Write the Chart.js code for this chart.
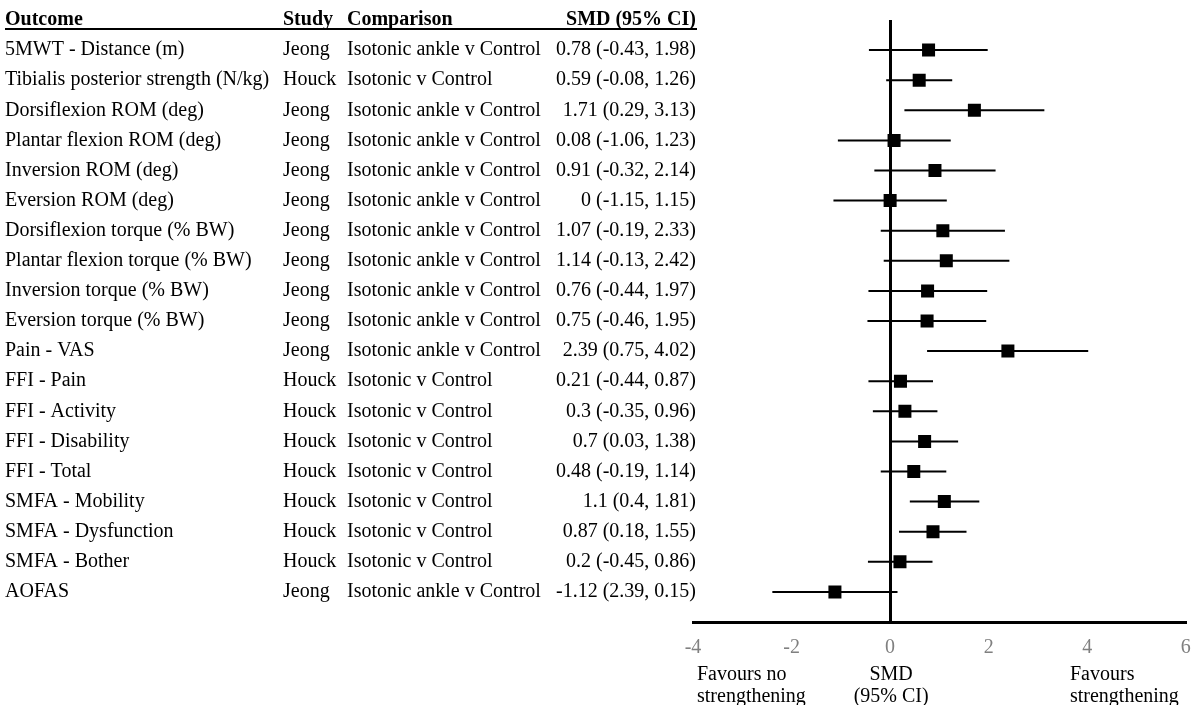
<!DOCTYPE html>
<html>
<head>
<meta charset="utf-8">
<script src="https://cdn.jsdelivr.net/npm/chart.js@4/dist/chart.umd.min.js"></script>
<style>
  body { margin: 0; background: #fff; }
  canvas { display: block; }
</style>
</head>
<body>
<canvas id="forest" width="1195" height="705"></canvas>
<script>
const outcomes = [
    '5MWT - Distance (m)', 'Tibialis posterior strength (N/kg)', 'Dorsiflexion ROM (deg)',
    'Plantar flexion ROM (deg)', 'Inversion ROM (deg)', 'Eversion ROM (deg)',
    'Dorsiflexion torque (% BW)', 'Plantar flexion torque (% BW)', 'Inversion torque (% BW)',
    'Eversion torque (% BW)', 'Pain - VAS', 'FFI - Pain', 'FFI - Activity', 'FFI - Disability',
    'FFI - Total', 'SMFA - Mobility', 'SMFA - Dysfunction', 'SMFA - Bother', 'AOFAS'
];
const studies = [
    'Jeong', 'Houck', 'Jeong', 'Jeong', 'Jeong', 'Jeong', 'Jeong', 'Jeong', 'Jeong', 'Jeong',
    'Jeong', 'Houck', 'Houck', 'Houck', 'Houck', 'Houck', 'Houck', 'Houck', 'Jeong'
];
const comparisons = [
    'Isotonic ankle v Control', 'Isotonic v Control', 'Isotonic ankle v Control',
    'Isotonic ankle v Control', 'Isotonic ankle v Control', 'Isotonic ankle v Control',
    'Isotonic ankle v Control', 'Isotonic ankle v Control', 'Isotonic ankle v Control',
    'Isotonic ankle v Control', 'Isotonic ankle v Control', 'Isotonic v Control',
    'Isotonic v Control', 'Isotonic v Control', 'Isotonic v Control', 'Isotonic v Control',
    'Isotonic v Control', 'Isotonic v Control', 'Isotonic ankle v Control'
];
const smd = [0.78, 0.59, 1.71, 0.08, 0.91, 0, 1.07, 1.14, 0.76, 0.75, 2.39, 0.21, 0.3, 0.7, 0.48, 1.1, 0.87, 0.2, -1.12];
const lower = [-0.43, -0.08, 0.29, -1.06, -0.32, -1.15, -0.19, -0.13, -0.44, -0.46, 0.75, -0.44, -0.35, 0.03, -0.19, 0.4, 0.18, -0.45, -2.39];
const upper = [1.98, 1.26, 3.13, 1.23, 2.14, 1.15, 2.33, 2.42, 1.97, 1.95, 4.02, 0.87, 0.96, 1.38, 1.14, 1.81, 1.55, 0.86, 0.15];
const ciText = [
    '0.78 (-0.43, 1.98)', '0.59 (-0.08, 1.26)', '1.71 (0.29, 3.13)', '0.08 (-1.06, 1.23)',
    '0.91 (-0.32, 2.14)', '0 (-1.15, 1.15)', '1.07 (-0.19, 2.33)', '1.14 (-0.13, 2.42)',
    '0.76 (-0.44, 1.97)', '0.75 (-0.46, 1.95)', '2.39 (0.75, 4.02)', '0.21 (-0.44, 0.87)',
    '0.3 (-0.35, 0.96)', '0.7 (0.03, 1.38)', '0.48 (-0.19, 1.14)', '1.1 (0.4, 1.81)',
    '0.87 (0.18, 1.55)', '0.2 (-0.45, 0.86)', '-1.12 (2.39, 0.15)'
];
const xTicks = [-4, -2, 0, 2, 4, 6];

const SERIF = "'Liberation Serif', 'Times New Roman', serif";

// left-hand table + captions under the axis
const tablePlugin = {
    id: 'tablePlugin',
    afterDraw(chart) {
        const ctx = chart.ctx;
        const yS = chart.scales.y;
        const xS = chart.scales.x;
        const cols = { outcome: 5, study: 283, comp: 347, ciRight: 696 };

        ctx.save();
        ctx.fillStyle = '#000';
        ctx.textBaseline = 'middle';

        // header
        const hy = yS.getPixelForValue(-1);
        ctx.font = 'bold 20px ' + SERIF;
        ctx.textAlign = 'left';
        ctx.fillText('Outcome', cols.outcome, hy);
        ctx.fillText('Study', cols.study, hy);
        ctx.fillText('Comparison', cols.comp, hy);
        ctx.textAlign = 'right';
        ctx.fillText('SMD (95% CI)', cols.ciRight, hy);

        ctx.strokeStyle = '#000';
        ctx.lineWidth = 2;
        ctx.beginPath();
        ctx.moveTo(5, 29);
        ctx.lineTo(697, 29);
        ctx.stroke();

        // rows
        ctx.font = '20px ' + SERIF;
        outcomes.forEach((name, i) => {
            const y = yS.getPixelForValue(i);
            ctx.textAlign = 'left';
            ctx.fillText(name, cols.outcome, y);
            ctx.fillText(studies[i], cols.study, y);
            ctx.fillText(comparisons[i], cols.comp, y);
            ctx.textAlign = 'right';
            ctx.fillText(ciText[i], cols.ciRight, y);
        });

        // captions below the ticks
        ctx.textBaseline = 'alphabetic';
        const l1 = 680, l2 = 702;
        ctx.textAlign = 'left';
        ctx.fillText('Favours no', xS.left + 4, l1);
        ctx.fillText('strengthening', xS.left + 4, l2);
        ctx.textAlign = 'center';
        const cx = xS.getPixelForValue(0) + 1;
        ctx.fillText('SMD', cx, l1);
        ctx.fillText('(95% CI)', cx, l2);
        ctx.textAlign = 'left';
        const rx = xS.getPixelForValue(3.65);
        ctx.fillText('Favours', rx, l1);
        ctx.fillText('strengthening', rx, l2);
        ctx.restore();
    }
};

new Chart(document.getElementById('forest'), {
    type: 'bar',
    data: {
        datasets: [
            {
                type: 'scatter',
                data: smd.map((v, i) => ({ x: v, y: i })),
                pointStyle: 'rect',
                pointRadius: 9.2,
                pointBorderWidth: 0,
                backgroundColor: '#000',
                borderColor: '#000',
                order: 0
            },
            {
                type: 'bar',
                indexAxis: 'y',
                data: lower.map((lo, i) => ({ x: [lo, upper[i]], y: i })),
                backgroundColor: '#000',
                borderWidth: 0,
                barThickness: 2,
                inflateAmount: 0,
                order: 1
            }
        ]
    },
    options: {
        responsive: false,
        animation: false,
        devicePixelRatio: 1,
        layout: { padding: { left: 693, right: 3, top: 20, bottom: 51 } },
        plugins: {
            legend: { display: false },
            tooltip: { enabled: false }
        },
        scales: {
            x: {
                type: 'linear',
                min: -4,
                max: 6,
                offset: false,
                afterBuildTicks: (scale) => {
                    scale.ticks = xTicks.map(v => ({ value: v }));
                },
                afterFit: (scale) => {
                    scale.height = 32;
                    scale.paddingLeft = 0;
                    scale.paddingRight = 0;
                },
                ticks: {
                    color: '#808080',
                    padding: 14,
                    font: { family: SERIF, size: 20 }
                },
                grid: {
                    offset: false,
                    drawTicks: false,
                    color: (c) => (c.tick && c.tick.value === 0 ? '#000' : 'rgba(0,0,0,0)'),
                    lineWidth: 3
                },
                border: { display: true, color: '#000', width: 3 }
            },
            y: {
                type: 'linear',
                min: -1,
                max: 19,
                offset: false,
                reverse: true,
                display: false
            }
        }
    },
    plugins: [tablePlugin]
});
</script>
</body>
</html>
